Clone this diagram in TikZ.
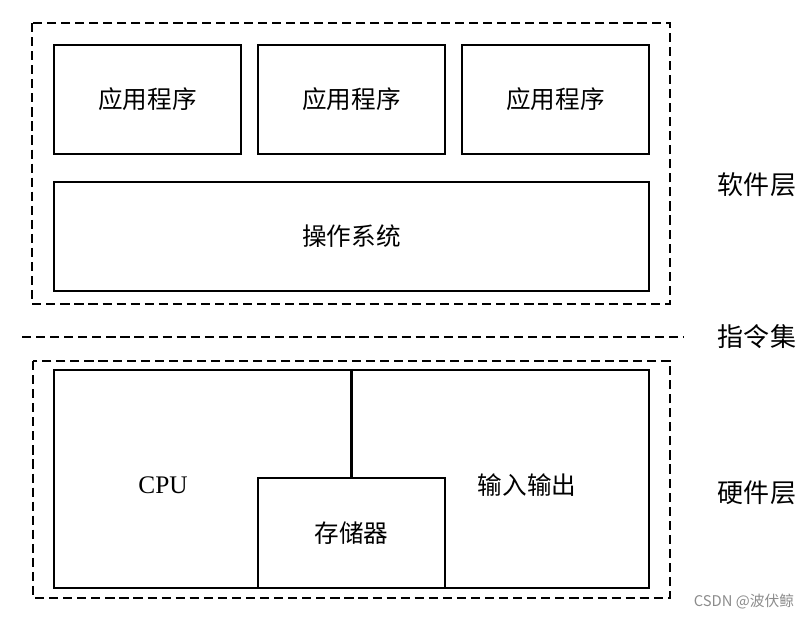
\documentclass[tikz,border=0pt]{standalone}
\usepackage{fontspec}
\setmainfont{Liberation Serif}
\newfontfamily\cjk{Noto Sans CJK SC}
\usepackage{tikz}
\usetikzlibrary{positioning,calc}
\tikzstyle{block}=[draw,line width=1.6pt,minimum width=4.675cm,minimum height=2.725cm,inner sep=0pt,font=\fontsize{17.5}{20}\selectfont\cjk]
\tikzstyle{dashbox}=[line width=1.6pt,dash pattern=on 6.5pt off 3.5pt]
\tikzstyle{layer}=[font=\fontsize{18.5}{22}\selectfont\cjk]

\begin{document}
\begin{tikzpicture}[x=0.025cm,y=-0.025cm]
\useasboundingbox (0,0) rectangle (810,618);
% software layer
\draw [dashbox] (32,23) rectangle (670,304);
\node [block] (app1) at (147.5,99.5) {应用程序};
\node [block] (app2) at (351.5,99.5) {应用程序};
\node [block] (app3) at (555.5,99.5) {应用程序};
\node [block, minimum width=14.875cm] (os) at (351.5,236.5) {操作系统};
% instruction set
\coordinate (isa left) at (22,337);
\coordinate (isa right) at (683,337);
\draw [dashbox] (isa left) -- (isa right);
% hardware layer
\draw [dashbox] (33,361) rectangle (670,598);
\node [block, minimum width=14.875cm, minimum height=5.45cm] (hw) at (351.5,479) {};
\node [block, minimum height=2.75cm] (mem) at (351.5,533) {存储器};
\draw [line width=1.6pt] (hw.north) -- (mem.north);
\node [font=\fontsize{18}{20}\selectfont] (cpu) at (163,485) {CPU};
\node [layer, font=\fontsize{17.5}{20}\selectfont\cjk] (io) at (527,485) {输入输出};
% labels
\node [layer] (soft) at (757,185) {软件层};
\node [layer] (isa) at (757,337) {指令集};
\node [layer] (hard) at (757,493) {硬件层};
\node [font=\fontsize{10.5}{12}\selectfont\cjk, text=black!45] (mark) at (744,602) {CSDN @波伏鲸};
\end{tikzpicture}
\end{document}
